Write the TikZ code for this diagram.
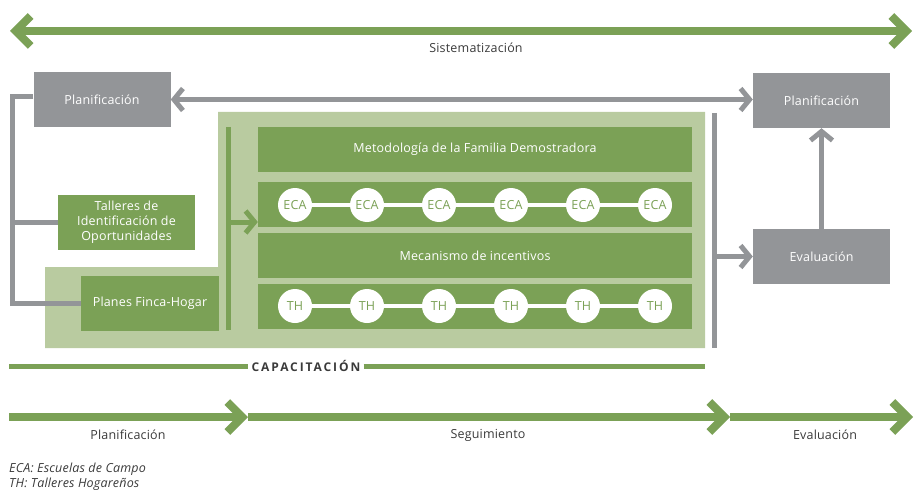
\documentclass[tikz,border=0pt]{standalone}
\usepackage{fontspec}
\setmainfont{Open Sans}[LetterSpace=1.5]
\usetikzlibrary{arrows.meta}
\definecolor{verde}{HTML}{7BA156}
\definecolor{verdeclaro}{HTML}{B9CBA0}
\definecolor{gris}{HTML}{939598}
\definecolor{texto}{HTML}{3A3A3A}
\begin{document}
\begin{tikzpicture}[x=1pt, y=-1pt, font=\fontsize{12.5}{15}\selectfont,
    gbox/.style={fill=gris, text=white, minimum width=137pt, minimum height=55pt, inner sep=0},
    vbox/.style={fill=verde, text=white, minimum width=137pt, minimum height=55pt, inner sep=0, align=center},
    row/.style={fill=verde, text=white, minimum width=434pt, minimum height=45pt, inner sep=0},
    dot/.style={circle, fill=white, text=verde, minimum size=34pt, inner sep=0},
    glink/.style={draw=gris, line width=5pt},
    gtip/.style={-{Straight Barb[length=9pt, width=22pt]}},
    vline/.style={draw=verde, line width=8pt},
    vtip/.style={-{Straight Barb[length=15pt, width=30pt]}},
    lbl/.style={text=texto}]
        \useasboundingbox (0,0) rectangle (915,492);

        % Sistematizacion
        \coordinate (sisL) at (10,31);
        \coordinate (sisR) at (912,31);
        \draw [vline, {Straight Barb[length=15pt, width=30pt]}-{Straight Barb[length=15pt, width=30pt]}] (sisL) -- (sisR);
        \node (sis) [lbl] at (476,48) {Sistematización};

        % fondo
        \fill [verdeclaro] (218,112) -- (705,112) -- (705,348) -- (45,348) -- (45,267) -- (218,267) -- cycle;

        \node (planL) [gbox] at (102,99.5) {Planificación};
        \node (planR) [gbox] at (821.5,100.5) {Planificación};
        \node (eval) [gbox] at (821.5,256.5) {Evaluación};
        \node (talleres) [vbox] at (126.5,222.5) {Talleres de\\Identificación de\\Oportunidades};
        \node (planes) [vbox, minimum width=138pt] at (150,303.5) {Planes Finca-Hogar};

        \draw [glink, {Straight Barb[length=9pt, width=22pt]}-{Straight Barb[length=9pt, width=22pt]}] (planL.east) -- (planL.east -| planR.west);
        \draw [glink, gtip] (eval.north) -- (planR.south);

        % corchete izquierdo
        \coordinate (brk) at (12,97);
        \draw [glink] (planL.west |- brk) -- (brk) |- (planes.west);
        \draw [glink] (talleres.west) -- (talleres.west -| brk);

        % filas
        \node (metodo) [row] at (475,149.5) {Metodología de la Familia Demostradora};
        \node (ecas) [row] at (475,204) {};
        \node (incent) [row] at (475,255.5) {Mecanismo de incentivos};
        \node (ths) [row] at (475,306.5) {};

        \foreach \i in {0,...,5} {
            \node (eca\i) [dot] at (295+72*\i,205) {ECA};
            \node (th\i) [dot] at (295+72*\i,306) {TH};
        }
        \foreach \i [evaluate=\i as \j using int(\i+1)] in {0,...,4} {
            \draw [white, line width=4pt] (eca\i) -- (eca\j);
            \draw [white, line width=4pt] (th\i) -- (th\j);
        }

        % barra verde
        \coordinate (barT) at (228,127);
        \coordinate (barB) at (228,330);
        \draw [draw=verde, line width=5pt] (barT) -- (barB);
        \coordinate (flecha) at (228,222);
        \draw [draw=verde, line width=5pt, -{Straight Barb[length=9pt, width=22pt]}] (flecha) -- (flecha -| metodo.west);

        % barra gris
        \coordinate (gT) at (714,113);
        \coordinate (gB) at (714,348);
        \draw [glink] (gT) -- (gB);
        \draw [glink, gtip] (gT |- eval.west) -- (eval.west);

        % capacitacion
        \coordinate (capL) at (9,366);
        \coordinate (capR) at (705,366);
        \node (cap) [text=texto, inner xsep=3pt, font=\fontsize{12}{14}\selectfont\bfseries\addfontfeature{LetterSpace=16}] at (306,366) {CAPACITACIÓN};
        \draw [draw=verde, line width=5pt] (capL) -- (cap.west);
        \draw [draw=verde, line width=5pt] (cap.east) -- (capR);

        % fases
        \coordinate (f0) at (9,417);
        \coordinate (f1) at (248,417);
        \coordinate (f2) at (730,417);
        \coordinate (f3) at (913,417);
        \draw [vline, vtip] (f0) -- (f1);
        \draw [vline, vtip] (f1) -- (f2);
        \draw [vline, vtip] (f2) -- (f3);
        \node (fplan) [lbl] at (128,435) {Planificación};
        \node (fseg) [lbl] at (488,435) {Seguimiento};
        \node (feval) [lbl] at (825,435) {Evaluación};

        \node (nota) [lbl, anchor=north west, align=left, font=\fontsize{12.5}{14.5}\selectfont\itshape, inner sep=0] at (9,463) {ECA: Escuelas de Campo\\TH: Talleres Hogareños};
    \end{tikzpicture}
\end{document}
